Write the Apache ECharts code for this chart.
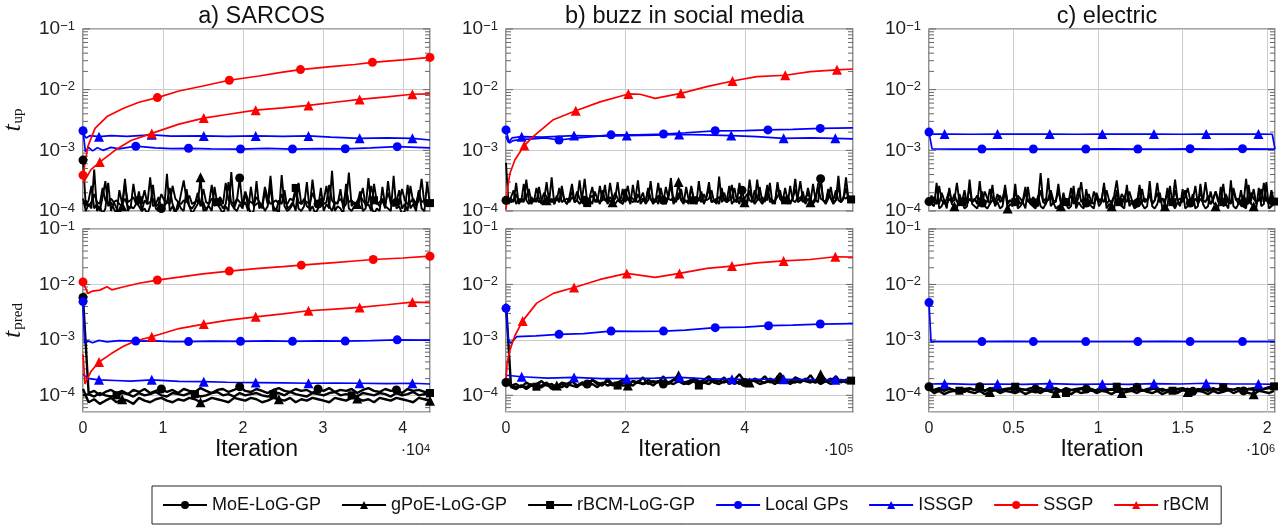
<!DOCTYPE html>
<html><head><meta charset="utf-8">
<script src="https://cdn.jsdelivr.net/npm/echarts@6/dist/echarts.min.js"></script>
<style>html,body{margin:0;padding:0;background:#fff}#c{width:1288px;height:529px}</style>
</head><body><div id="c"></div>
<script>
// ---------------- DATA ----------------
const legendNames = ['MoE-LoG-GP','gPoE-LoG-GP','rBCM-LoG-GP','Local GPs','ISSGP','SSGP','rBCM'];
const panelTitles = ['a) SARCOS','b) buzz in social media','c) electric'];
const xTickDivisors = [1e4, 1e5, 1e6];
const xExponents = ['4','5','6'];
const yTicksMajor = [1e-4, 1e-3, 1e-2, 1e-1];
const yTicksMinor = [6e-5,7e-5,8e-5,9e-5,2e-4,3e-4,4e-4,5e-4,6e-4,7e-4,8e-4,9e-4,2e-3,3e-3,4e-3,5e-3,6e-3,7e-3,8e-3,9e-3,2e-2,3e-2,4e-2,5e-2,6e-2,7e-2,8e-2,9e-2];
// sampling steps (iterations) of the LoG-GP timing series: [t_up, t_pred]
const SARCOS_STEPS = [350, 700], BUZZ_STEPS = [4250, 8500], ELECTRIC_STEPS = [15000, 30000];

// ---- a) SARCOS, t_up ----
const sarcosUpMoE = [6.9e-4,1.2e-4,1.5e-4,2.6e-4,1.1e-4,1.3e-4,1.0e-4,1.7e-4,3.1e-4,1.2e-4,
1.4e-4,1.1e-4,0.9e-4,2.2e-4,1.3e-4,1.6e-4,1.2e-4,1.1e-4,2.8e-4,1.4e-4,
1.2e-4,1.0e-4,1.5e-4,1.3e-4,3.6e-4,1.2e-4,1.3e-4,1.7e-4,1.1e-4,1.2e-4,
1.4e-4,2.4e-4,1.3e-4,1.0e-4,1.1e-4,1.9e-4,3.2e-4,1.5e-4,1.2e-4,1.1e-4,
1.3e-4,2.0e-4,1.2e-4,1.4e-4,1.0e-4,1.3e-4,2.7e-4,1.2e-4,1.6e-4,1.4e-4,
1.1e-4,1.3e-4,3.0e-4,1.3e-4,1.1e-4,1.5e-4,3.5e-4,1.2e-4,1.4e-4,1.0e-4,
2.5e-4,1.2e-4,1.3e-4,1.4e-4,1.1e-4,2.1e-4,1.3e-4,3.8e-4,1.2e-4,1.0e-4,
1.5e-4,1.3e-4,2.2e-4,1.1e-4,1.2e-4,1.4e-4,1.0e-4,2.9e-4,1.3e-4,1.6e-4,
1.2e-4,1.1e-4,3.3e-4,1.4e-4,1.3e-4,1.2e-4,1.5e-4,2.6e-4,1.2e-4,1.0e-4,
1.4e-4,1.3e-4,2.3e-4,1.1e-4,1.3e-4,4.3e-4,1.2e-4,1.4e-4,1.1e-4,1.6e-4,
2.4e-4,1.2e-4,1.3e-4,1.0e-4,2.8e-4,1.4e-4,1.2e-4,1.5e-4,1.1e-4,3.1e-4,
1.3e-4,1.2e-4,1.4e-4,2.2e-4,1.1e-4,1.3e-4,1.0e-4,2.6e-4,1.4e-4,1.2e-4,
1.5e-4,3.4e-4,1.3e-4,1.2e-4,1.4e-4];
const sarcosUpGPoE = [1.6e-4,1.0e-4,1.3e-4,1.1e-4,4.8e-4,1.0e-4,1.2e-4,0.9e-4,1.1e-4,2.9e-4,
1.0e-4,1.4e-4,1.1e-4,0.9e-4,1.2e-4,3.4e-4,1.0e-4,1.2e-4,1.1e-4,1.3e-4,
2.1e-4,1.0e-4,1.1e-4,0.9e-4,1.2e-4,2.7e-4,1.1e-4,1.0e-4,1.3e-4,1.1e-4,
4.1e-4,1.0e-4,1.2e-4,0.9e-4,1.4e-4,1.1e-4,1.0e-4,2.3e-4,1.2e-4,0.9e-4,
1.1e-4,1.3e-4,3.6e-4,1.0e-4,1.1e-4,1.2e-4,1.0e-4,2.5e-4,1.3e-4,1.1e-4,
0.9e-4,1.2e-4,1.0e-4,4.4e-4,1.1e-4,1.0e-4,1.3e-4,1.1e-4,2.0e-4,1.2e-4,
0.9e-4,1.0e-4,3.1e-4,1.1e-4,1.3e-4,1.0e-4,1.2e-4,2.6e-4,1.0e-4,1.1e-4,
0.9e-4,3.9e-4,1.2e-4,1.0e-4,1.1e-4,1.3e-4,2.2e-4,1.1e-4,1.0e-4,1.2e-4,
3.0e-4,1.0e-4,1.2e-4,0.9e-4,1.1e-4,2.4e-4,1.0e-4,1.3e-4,1.1e-4,4.6e-4,
1.0e-4,1.2e-4,1.1e-4,0.9e-4,2.8e-4,1.1e-4,1.0e-4,1.2e-4,1.3e-4,2.1e-4,
1.0e-4,1.1e-4,3.5e-4,1.2e-4,0.9e-4,1.1e-4,1.0e-4,2.5e-4,1.2e-4,1.1e-4,
1.0e-4,3.8e-4,1.1e-4,1.2e-4,0.9e-4,1.0e-4,2.7e-4,1.1e-4,1.3e-4,1.0e-4,
2.2e-4,1.1e-4,1.0e-4,3.0e-4,1.2e-4];
const sarcosUpRBCMLoG = [1.3e-4,1.5e-4,1.2e-4,1.4e-4,1.9e-4,1.4e-4,1.3e-4,2.4e-4,1.5e-4,1.3e-4,
1.6e-4,1.4e-4,1.5e-4,1.3e-4,1.2e-4,2.8e-4,1.4e-4,1.5e-4,1.7e-4,1.3e-4,
1.5e-4,1.4e-4,2.2e-4,1.3e-4,1.4e-4,1.6e-4,1.2e-4,1.3e-4,1.9e-4,1.5e-4,
1.4e-4,1.3e-4,2.6e-4,1.6e-4,1.4e-4,1.3e-4,1.5e-4,1.4e-4,1.8e-4,1.3e-4,
1.4e-4,1.5e-4,1.3e-4,2.3e-4,1.4e-4,1.3e-4,1.6e-4,1.5e-4,1.4e-4,1.7e-4,
1.3e-4,2.9e-4,1.5e-4,1.4e-4,1.3e-4,1.6e-4,1.4e-4,1.3e-4,2.1e-4,1.5e-4,
1.4e-4,1.3e-4,1.7e-4,1.4e-4,1.2e-4,2.5e-4,1.6e-4,1.3e-4,1.4e-4,1.5e-4,
1.3e-4,1.9e-4,1.4e-4,1.3e-4,1.6e-4,1.5e-4,2.4e-4,1.4e-4,1.3e-4,1.5e-4,
1.4e-4,1.3e-4,2.0e-4,1.5e-4,1.4e-4,1.6e-4,1.3e-4,1.4e-4,2.7e-4,1.5e-4,
1.3e-4,1.4e-4,1.6e-4,1.3e-4,2.2e-4,1.4e-4,1.5e-4,1.3e-4,1.4e-4,1.8e-4,
1.5e-4,1.3e-4,1.4e-4,2.6e-4,1.5e-4,1.3e-4,1.4e-4,1.6e-4,1.3e-4,2.0e-4,
1.4e-4,1.5e-4,1.3e-4,1.4e-4,2.3e-4,1.5e-4,1.3e-4,1.4e-4,1.6e-4,1.3e-4,
2.1e-4,1.4e-4,1.5e-4,1.3e-4,1.35e-4];
const sarcosUpLocalX = [0,300,700,1200,1800,2500,3500,4500,6600,9000,11000,13200,16000,19700,23000,26200,29500,32800,36000,39300,43400];
const sarcosUpLocalY = [2.1e-3,9.5e-4,1.12e-3,9.8e-4,1.1e-3,1.0e-3,1.12e-3,1.06e-3,1.17e-3,1.1e-3,1.07e-3,1.08e-3,1.06e-3,1.05e-3,1.08e-3,1.05e-3,1.07e-3,1.06e-3,1.1e-3,1.15e-3,1.1e-3];
const sarcosUpISSGPX = [0,400,900,2000,3500,5500,8600,11000,15100,18000,21600,25000,28200,31000,34600,38000,41200,43400];
const sarcosUpISSGPY = [1.9e-3,1.6e-3,1.75e-3,1.68e-3,1.75e-3,1.7e-3,1.8e-3,1.72e-3,1.73e-3,1.7e-3,1.73e-3,1.7e-3,1.73e-3,1.65e-3,1.58e-3,1.6e-3,1.58e-3,1.48e-3];
const sarcosUpSSGPX = [0,600,1500,3000,5000,7000,9300,12000,15000,18300,22000,25000,27200,31000,34000,36200,40000,43400];
const sarcosUpSSGPY = [3.9e-4,1.15e-3,2.3e-3,3.6e-3,4.9e-3,6.2e-3,7.4e-3,9.5e-3,1.15e-2,1.43e-2,1.68e-2,1.95e-2,2.14e-2,2.4e-2,2.6e-2,2.82e-2,3.1e-2,3.4e-2];
const sarcosUpRBCMX = [0,500,1000,2100,4000,6000,8600,12000,15100,18000,21600,25000,28200,31500,34600,38000,41200,43400];
const sarcosUpRBCMY = [2.9e-4,3.7e-4,4.8e-4,6.4e-4,1.0e-3,1.45e-3,1.9e-3,2.7e-3,3.4e-3,3.9e-3,4.6e-3,5.0e-3,5.5e-3,6.2e-3,6.9e-3,7.6e-3,8.4e-3,8.5e-3];

// ---- a) SARCOS, t_pred ----
const sarcosPredMoE = [5.8e-3,1.1e-4,1.2e-4,1.0e-4,1.15e-4,1.25e-4,1.1e-4,1.2e-4,1.05e-4,1.25e-4,1.15e-4,1.3e-4,1.1e-4,1.2e-4,1.3e-4,1.15e-4,1.25e-4,1.1e-4,1.3e-4,1.2e-4,1.15e-4,1.35e-4,1.2e-4,1.1e-4,1.25e-4,1.3e-4,1.15e-4,1.25e-4,1.43e-4,1.2e-4,1.15e-4,1.3e-4,1.2e-4,1.1e-4,1.25e-4,1.35e-4,1.2e-4,1.15e-4,1.3e-4,1.2e-4,1.25e-4,1.1e-4,1.3e-4,1.2e-4,1.35e-4,1.15e-4,1.25e-4,1.2e-4,1.3e-4,1.1e-4,1.25e-4,1.35e-4,1.2e-4,1.15e-4,1.3e-4,1.2e-4,1.25e-4,1.1e-4,1.3e-4,1.2e-4,1.25e-4,1.15e-4,1.2e-4];
const sarcosPredGPoE = [1.3e-4,0.75e-4,0.85e-4,0.7e-4,0.8e-4,0.9e-4,0.75e-4,0.85e-4,0.8e-4,0.7e-4,0.9e-4,0.8e-4,0.75e-4,0.85e-4,0.9e-4,0.8e-4,0.75e-4,0.85e-4,0.8e-4,0.9e-4,0.85e-4,0.75e-4,0.8e-4,0.9e-4,0.85e-4,0.8e-4,0.75e-4,0.9e-4,0.85e-4,0.8e-4,0.9e-4,0.85e-4,0.75e-4,0.8e-4,0.9e-4,0.85e-4,0.8e-4,0.9e-4,0.75e-4,0.85e-4,0.8e-4,0.9e-4,0.85e-4,0.8e-4,0.75e-4,0.9e-4,0.85e-4,0.8e-4,0.9e-4,0.88e-4,0.8e-4,0.85e-4,0.75e-4,0.9e-4,0.85e-4,0.8e-4,0.9e-4,0.85e-4,0.8e-4,0.75e-4,0.9e-4,0.85e-4,0.8e-4];
const sarcosPredRBCMLoG = [1.0e-4,1.05e-4,0.95e-4,1.1e-4,1.0e-4,0.95e-4,1.0e-4,1.1e-4,1.05e-4,0.95e-4,1.1e-4,1.0e-4,1.05e-4,1.15e-4,1.0e-4,0.95e-4,1.1e-4,1.05e-4,1.0e-4,1.1e-4,1.05e-4,0.95e-4,1.0e-4,1.1e-4,1.15e-4,1.0e-4,1.05e-4,0.95e-4,1.1e-4,1.0e-4,1.05e-4,1.1e-4,1.0e-4,0.95e-4,1.05e-4,1.1e-4,1.0e-4,1.15e-4,1.05e-4,1.0e-4,0.95e-4,1.1e-4,1.05e-4,1.0e-4,1.1e-4,1.15e-4,1.0e-4,1.05e-4,1.0e-4,0.95e-4,1.1e-4,1.05e-4,1.0e-4,1.1e-4,1.05e-4,0.95e-4,1.1e-4,1.0e-4,1.05e-4,1.15e-4,1.0e-4,1.05e-4,1.1e-4];
const sarcosPredLocalX = [0,200,600,1200,2000,3000,4500,6600,9000,11000,13200,16000,19700,23000,26200,29500,32800,36000,39300,43400];
const sarcosPredLocalY = [4.9e-3,8.7e-4,9.6e-4,8.9e-4,9.8e-4,9.2e-4,9.7e-4,9.5e-4,9.6e-4,9.3e-4,9.3e-4,9.5e-4,9.4e-4,9.6e-4,9.4e-4,9.6e-4,9.5e-4,9.7e-4,1.0e-3,9.9e-4];
const sarcosPredISSGPX = [0,300,800,2000,4000,6000,8600,12000,15100,18000,21600,25000,28200,31500,34600,38000,41200,43400];
const sarcosPredISSGPY = [2.4e-4,2.2e-4,2.0e-4,1.9e-4,1.85e-4,1.8e-4,1.9e-4,1.78e-4,1.76e-4,1.72e-4,1.7e-4,1.68e-4,1.65e-4,1.66e-4,1.65e-4,1.63e-4,1.65e-4,1.6e-4];
const sarcosPredSSGPX = [0,600,1200,2100,3000,3600,5000,7000,9300,12000,15000,18300,22000,25000,27300,31000,34000,36300,40000,43400];
const sarcosPredSSGPY = [1.11e-2,6.9e-3,7.6e-3,7.9e-3,9.1e-3,8.0e-3,9.0e-3,1.05e-2,1.2e-2,1.35e-2,1.55e-2,1.74e-2,1.95e-2,2.1e-2,2.23e-2,2.45e-2,2.65e-2,2.82e-2,3.0e-2,3.23e-2];
const sarcosPredRBCMX = [0,250,700,1000,2000,3500,5000,6500,8600,12000,15100,18000,21600,25000,28200,31500,34600,38000,41200,43400];
const sarcosPredRBCMY = [5.5e-4,1.6e-4,2.2e-4,2.7e-4,4.0e-4,5.6e-4,7.6e-4,9.5e-4,1.14e-3,1.6e-3,1.93e-3,2.25e-3,2.6e-3,2.95e-3,3.35e-3,3.6e-3,3.85e-3,4.3e-3,4.8e-3,4.7e-3];

// ---- b) buzz, t_up ----
const buzzUpMoE = [1.5e-4,1.4e-4,1.7e-4,2.2e-4,1.3e-4,1.6e-4,1.4e-4,2.8e-4,1.5e-4,1.3e-4,
1.7e-4,1.4e-4,2.4e-4,1.6e-4,1.3e-4,1.5e-4,3.0e-4,1.4e-4,1.6e-4,1.3e-4,
1.8e-4,1.4e-4,2.6e-4,1.5e-4,1.3e-4,1.6e-4,2.1e-4,1.4e-4,1.5e-4,3.2e-4,
1.4e-4,1.5e-4,1.3e-4,1.7e-4,2.5e-4,1.4e-4,1.6e-4,1.3e-4,2.2e-4,1.5e-4,
1.4e-4,2.9e-4,1.6e-4,1.3e-4,1.5e-4,1.4e-4,2.3e-4,1.4e-4,1.7e-4,1.3e-4,
2.7e-4,1.5e-4,1.4e-4,1.6e-4,2.0e-4,1.3e-4,1.5e-4,3.1e-4,1.4e-4,1.6e-4,
1.3e-4,2.4e-4,1.5e-4,1.4e-4,1.7e-4,2.8e-4,1.3e-4,1.5e-4,1.6e-4,2.3e-4,
1.4e-4,1.5e-4,1.3e-4,2.6e-4,1.6e-4,1.4e-4,1.5e-4,2.1e-4,1.3e-4,1.7e-4,
3.0e-4,1.4e-4,1.5e-4,1.6e-4,1.3e-4,2.4e-4,1.5e-4,1.4e-4,1.7e-4,2.7e-4,
1.4e-4,1.6e-4,1.3e-4,2.2e-4,1.5e-4,1.4e-4,3.3e-4,1.6e-4,1.3e-4,1.5e-4,
2.5e-4,1.4e-4,1.6e-4,1.5e-4,2.9e-4,1.3e-4,1.5e-4,1.7e-4,2.2e-4,1.4e-4,
1.6e-4,1.3e-4,2.6e-4,1.5e-4,1.4e-4,1.7e-4,3.1e-4,1.5e-4,1.4e-4,2.4e-4,
1.6e-4,1.3e-4,1.5e-4,2.8e-4,3.4e-4,1.5e-4,1.4e-4,2.3e-4,1.6e-4,1.3e-4,
1.5e-4,2.7e-4,1.4e-4,1.6e-4,3.6e-4,1.5e-4,1.4e-4];
const buzzUpGPoE = [6.2e-4,1.3e-4,1.6e-4,1.4e-4,2.9e-4,1.3e-4,1.5e-4,1.4e-4,3.3e-4,1.5e-4,
1.3e-4,1.6e-4,1.4e-4,2.5e-4,1.5e-4,1.3e-4,1.5e-4,1.4e-4,3.6e-4,1.3e-4,
1.6e-4,1.4e-4,2.2e-4,1.5e-4,1.3e-4,1.7e-4,2.8e-4,1.4e-4,1.5e-4,1.3e-4,
1.6e-4,3.4e-4,1.4e-4,1.5e-4,1.3e-4,2.1e-4,1.6e-4,1.4e-4,1.5e-4,2.7e-4,
1.3e-4,1.5e-4,1.4e-4,1.6e-4,3.0e-4,1.4e-4,1.3e-4,1.7e-4,2.6e-4,1.5e-4,
1.4e-4,1.6e-4,3.2e-4,1.3e-4,1.5e-4,1.4e-4,2.4e-4,1.6e-4,1.3e-4,1.5e-4,
2.9e-4,1.4e-4,1.5e-4,1.3e-4,1.7e-4,3.5e-4,1.4e-4,1.6e-4,3.0e-4,1.5e-4,
1.3e-4,2.5e-4,1.5e-4,1.4e-4,1.6e-4,1.3e-4,3.1e-4,1.5e-4,1.4e-4,1.7e-4,
2.3e-4,1.4e-4,1.5e-4,1.3e-4,3.7e-4,1.4e-4,1.6e-4,1.5e-4,2.6e-4,1.3e-4,
1.5e-4,1.4e-4,2.9e-4,1.6e-4,1.4e-4,1.3e-4,2.2e-4,1.5e-4,1.4e-4,3.3e-4,
1.5e-4,1.3e-4,1.6e-4,2.7e-4,1.4e-4,1.5e-4,1.3e-4,3.0e-4,1.6e-4,1.4e-4,
2.4e-4,1.5e-4,1.3e-4,1.6e-4,3.4e-4,1.4e-4,1.5e-4,2.1e-4,1.3e-4,1.6e-4,
1.4e-4,2.8e-4,1.5e-4,1.4e-4,3.6e-4,1.5e-4,1.3e-4,1.6e-4,2.5e-4,1.4e-4,
1.5e-4,3.8e-4,1.4e-4,1.6e-4,2.4e-4,1.5e-4,1.4e-4];
const buzzUpRBCMLoG = [1.5e-4,1.6e-4,1.4e-4,1.5e-4,1.9e-4,1.4e-4,1.6e-4,1.5e-4,1.7e-4,2.3e-4,
1.4e-4,1.5e-4,1.6e-4,1.4e-4,1.5e-4,2.0e-4,1.7e-4,1.5e-4,1.4e-4,1.6e-4,
1.5e-4,2.4e-4,1.4e-4,1.5e-4,1.6e-4,1.4e-4,1.7e-4,1.5e-4,2.1e-4,1.6e-4,
1.4e-4,1.5e-4,1.35e-4,1.6e-4,1.8e-4,1.5e-4,1.4e-4,2.6e-4,1.5e-4,1.6e-4,
1.4e-4,1.7e-4,1.5e-4,2.0e-4,1.6e-4,1.4e-4,1.5e-4,2.3e-4,1.5e-4,1.7e-4,
1.6e-4,1.4e-4,1.9e-4,1.5e-4,1.6e-4,1.4e-4,2.2e-4,1.5e-4,1.6e-4,1.4e-4,
1.8e-4,1.5e-4,1.4e-4,2.5e-4,1.6e-4,1.5e-4,1.7e-4,1.4e-4,2.0e-4,1.5e-4,
1.6e-4,1.4e-4,1.5e-4,2.4e-4,1.5e-4,1.7e-4,1.6e-4,1.4e-4,1.9e-4,1.5e-4,
1.6e-4,2.2e-4,1.4e-4,1.5e-4,1.7e-4,1.6e-4,2.0e-4,1.4e-4,1.5e-4,1.6e-4,
2.4e-4,1.5e-4,1.7e-4,1.4e-4,1.6e-4,1.9e-4,1.5e-4,1.4e-4,2.2e-4,1.6e-4,
1.5e-4,1.7e-4,1.4e-4,2.1e-4,1.6e-4,1.5e-4,1.4e-4,2.7e-4,1.6e-4,1.5e-4,
1.5e-4,1.8e-4,1.4e-4,1.6e-4,2.3e-4,1.5e-4,1.7e-4,1.4e-4,1.6e-4,2.0e-4,
1.5e-4,1.4e-4,1.7e-4,2.5e-4,1.6e-4,1.5e-4,1.4e-4,1.9e-4,1.6e-4,1.5e-4,
2.2e-4,1.5e-4,1.4e-4,1.7e-4,1.6e-4,1.8e-4,1.55e-4];
const buzzUpLocalX = [0,5600,12000,23500,45000,65000,88800,120000,150000,176000,220000,263800,300000,350400,400000,438700,480000,526400,581000];
const buzzUpLocalY = [2.17e-3,1.32e-3,1.45e-3,1.5e-3,1.55e-3,1.6e-3,1.48e-3,1.6e-3,1.7e-3,1.8e-3,1.8e-3,1.86e-3,1.95e-3,2.1e-3,2.12e-3,2.17e-3,2.22e-3,2.3e-3,2.35e-3];
const buzzUpISSGPX = [0,4000,10000,26300,60000,114000,160000,202300,250000,290000,330000,377200,420000,465000,510000,551600,581000];
const buzzUpISSGPY = [1.7e-3,1.35e-3,1.6e-3,1.68e-3,1.65e-3,1.75e-3,1.72e-3,1.75e-3,1.78e-3,1.83e-3,1.8e-3,1.75e-3,1.68e-3,1.58e-3,1.6e-3,1.58e-3,1.55e-3];
const buzzUpRBCMX = [0,3000,6700,15000,30700,45800,79300,116800,157600,205000,224600,249800,292800,336500,379400,420300,467700,509600,554400,581000];
const buzzUpRBCMY = [1.05e-4,2.5e-4,4.2e-4,7.0e-4,1.2e-3,1.7e-3,3.2e-3,4.5e-3,6.3e-3,8.5e-3,8.4e-3,7.2e-3,8.7e-3,1.12e-2,1.39e-2,1.64e-2,1.73e-2,1.99e-2,2.12e-2,2.19e-2];

// ---- b) buzz, t_pred ----
const buzzPredMoE = [1.7e-4,1.5e-4,1.6e-4,1.4e-4,1.7e-4,1.5e-4,1.6e-4,1.8e-4,1.5e-4,1.6e-4,1.4e-4,1.7e-4,1.6e-4,1.8e-4,1.5e-4,1.7e-4,1.6e-4,1.9e-4,1.7e-4,1.6e-4,1.8e-4,1.5e-4,1.7e-4,1.9e-4,1.6e-4,1.8e-4,1.7e-4,1.6e-4,1.9e-4,1.7e-4,1.8e-4,1.6e-4,1.7e-4,1.9e-4,1.8e-4,1.6e-4,1.7e-4,2.0e-4,1.8e-4,1.7e-4,1.6e-4,1.9e-4,1.8e-4,1.7e-4,2.0e-4,1.6e-4,1.8e-4,1.7e-4,1.9e-4,1.8e-4,1.6e-4,1.7e-4,2.0e-4,1.8e-4,1.7e-4,1.9e-4,1.6e-4,1.8e-4,1.7e-4,2.0e-4,1.8e-4,1.7e-4,1.9e-4,1.8e-4,1.6e-4,1.8e-4,1.9e-4,1.7e-4,1.8e-4];
const buzzPredGPoE = [4.5e-3,1.4e-4,1.3e-4,1.5e-4,1.4e-4,1.6e-4,1.3e-4,1.5e-4,1.7e-4,1.4e-4,1.5e-4,1.6e-4,1.4e-4,1.8e-4,1.5e-4,1.6e-4,1.4e-4,1.9e-4,1.6e-4,1.5e-4,2.0e-4,1.6e-4,1.7e-4,1.5e-4,1.5e-4,1.8e-4,1.7e-4,2.1e-4,1.6e-4,1.8e-4,1.7e-4,2.2e-4,1.6e-4,1.9e-4,2.3e-4,1.7e-4,1.8e-4,2.0e-4,1.7e-4,1.9e-4,2.2e-4,1.7e-4,1.8e-4,2.1e-4,1.6e-4,1.9e-4,2.4e-4,1.8e-4,1.7e-4,2.0e-4,1.8e-4,2.2e-4,1.7e-4,1.9e-4,2.5e-4,1.8e-4,1.7e-4,2.1e-4,1.9e-4,1.8e-4,2.3e-4,1.7e-4,2.4e-4,1.9e-4,1.8e-4,2.2e-4,1.7e-4,1.9e-4,2.0e-4];
const buzzPredRBCMLoG = [1.6e-4,1.5e-4,1.4e-4,1.5e-4,1.3e-4,1.5e-4,1.43e-4,1.4e-4,1.6e-4,1.3e-4,1.5e-4,1.4e-4,1.6e-4,1.5e-4,1.4e-4,1.7e-4,1.5e-4,1.6e-4,1.4e-4,1.7e-4,1.5e-4,1.6e-4,1.5e-4,1.7e-4,1.6e-4,1.5e-4,1.8e-4,1.6e-4,1.7e-4,1.5e-4,1.8e-4,1.6e-4,1.7e-4,1.6e-4,1.8e-4,1.7e-4,1.6e-4,1.8e-4,1.5e-4,1.7e-4,1.9e-4,1.7e-4,1.6e-4,1.8e-4,1.7e-4,1.9e-4,1.6e-4,1.8e-4,1.7e-4,1.9e-4,1.8e-4,1.7e-4,1.8e-4,1.6e-4,1.9e-4,1.7e-4,1.8e-4,1.7e-4,1.9e-4,1.8e-4,1.7e-4,1.9e-4,1.6e-4,1.8e-4,2.0e-4,1.7e-4,1.8e-4,1.9e-4,1.84e-4];
const buzzPredLocalX = [0,3900,8000,17900,50000,88800,130000,176000,220000,263800,300000,350400,400000,439700,480000,526400,581000];
const buzzPredLocalY = [3.7e-3,1.0e-3,8.7e-4,1.14e-3,1.18e-3,1.26e-3,1.3e-3,1.44e-3,1.42e-3,1.44e-3,1.5e-3,1.66e-3,1.7e-3,1.8e-3,1.85e-3,1.93e-3,1.97e-3];
const buzzPredISSGPX = [0,3000,26300,70000,114000,160000,202300,250000,290500,330000,378400,420000,465000,510000,551600,581000];
const buzzPredISSGPY = [2.3e-4,2.2e-4,2.16e-4,2.05e-4,2.1e-4,2.0e-4,2.0e-4,2.05e-4,2.1e-4,2.0e-4,1.95e-4,1.95e-4,1.95e-4,1.92e-4,1.9e-4,1.9e-4];
const buzzPredRBCMX = [0,2000,6700,15000,28000,51400,79300,114000,157600,202300,249800,290500,336500,378400,420300,465000,509600,551600,581000];
const buzzPredRBCMY = [1.9e-4,4.0e-4,6.6e-4,1.2e-3,2.2e-3,4.6e-3,6.9e-3,8.8e-3,1.23e-2,1.58e-2,1.34e-2,1.58e-2,1.95e-2,2.14e-2,2.45e-2,2.66e-2,2.82e-2,3.16e-2,3.1e-2];

// ---- c) electric, t_up ----
const elecUpMoE = [1.43e-4,1.8e-4,1.4e-4,1.3e-4,2.6e-4,1.5e-4,1.3e-4,1.6e-4,2.2e-4,1.4e-4,
1.5e-4,2.9e-4,1.4e-4,1.3e-4,1.7e-4,1.5e-4,2.4e-4,1.4e-4,1.6e-4,1.3e-4,
3.1e-4,1.35e-4,1.5e-4,1.4e-4,2.3e-4,1.6e-4,1.3e-4,1.5e-4,1.8e-4,1.4e-4,
2.7e-4,1.3e-4,1.5e-4,1.4e-4,2.0e-4,1.6e-4,1.3e-4,1.5e-4,2.5e-4,1.4e-4,
1.6e-4,1.3e-4,1.35e-4,1.5e-4,4.2e-4,1.4e-4,1.3e-4,1.6e-4,2.2e-4,1.5e-4,
1.4e-4,2.8e-4,1.3e-4,1.5e-4,1.6e-4,1.4e-4,2.4e-4,1.5e-4,1.3e-4,1.7e-4,
3.0e-4,1.4e-4,1.35e-4,1.5e-4,1.3e-4,2.1e-4,1.6e-4,1.4e-4,1.5e-4,2.6e-4,
1.3e-4,1.5e-4,1.4e-4,1.8e-4,3.2e-4,1.5e-4,1.3e-4,1.6e-4,2.3e-4,1.4e-4,
1.5e-4,1.3e-4,1.35e-4,2.7e-4,1.4e-4,1.6e-4,1.5e-4,2.0e-4,1.3e-4,1.5e-4,
2.9e-4,1.4e-4,1.6e-4,1.3e-4,2.4e-4,1.5e-4,1.4e-4,3.3e-4,1.5e-4,1.3e-4,
1.6e-4,2.2e-4,1.4e-4,1.35e-4,1.5e-4,2.6e-4,1.3e-4,1.6e-4,1.4e-4,3.0e-4,
1.5e-4,1.3e-4,1.6e-4,2.1e-4,1.4e-4,1.5e-4,2.8e-4,1.3e-4,1.5e-4,1.4e-4,
2.4e-4,1.6e-4,1.3e-4,1.5e-4,1.35e-4,3.4e-4,1.4e-4,1.5e-4,2.3e-4,1.3e-4,
1.6e-4,1.4e-4,2.9e-4,1.5e-4,1.3e-4,2.2e-4,1.43e-4];
const elecUpGPoE = [1.6e-4,1.3e-4,1.2e-4,2.9e-4,1.1e-4,1.2e-4,1.5e-4,1.1e-4,2.4e-4,1.3e-4,
1.2e-4,1.1e-4,1.9e-4,1.4e-4,1.1e-4,1.2e-4,3.3e-4,1.3e-4,1.2e-4,1.1e-4,
1.5e-4,2.1e-4,1.2e-4,1.1e-4,1.3e-4,2.7e-4,1.2e-4,1.4e-4,1.1e-4,1.2e-4,
2.2e-4,1.1e-4,1.3e-4,1.2e-4,2.8e-4,1.1e-4,1.2e-4,1.4e-4,1.1e-4,2.5e-4,
1.3e-4,1.2e-4,1.1e-4,1.8e-4,1.2e-4,1.1e-4,1.3e-4,3.5e-4,1.2e-4,1.4e-4,
1.1e-4,1.2e-4,1.2e-4,2.0e-4,1.3e-4,1.1e-4,1.2e-4,2.6e-4,1.1e-4,1.4e-4,
1.2e-4,1.1e-4,2.3e-4,1.3e-4,1.2e-4,1.1e-4,1.9e-4,1.2e-4,1.4e-4,2.9e-4,
1.1e-4,1.3e-4,1.2e-4,1.1e-4,2.2e-4,1.3e-4,1.2e-4,1.1e-4,2.7e-4,1.2e-4,
1.4e-4,1.1e-4,1.2e-4,2.4e-4,1.3e-4,1.1e-4,1.2e-4,3.1e-4,1.2e-4,1.1e-4,
1.3e-4,2.0e-4,1.1e-4,1.2e-4,1.2e-4,2.6e-4,1.3e-4,1.1e-4,1.4e-4,1.2e-4,
2.3e-4,1.1e-4,1.2e-4,1.3e-4,1.9e-4,1.1e-4,1.2e-4,2.8e-4,1.3e-4,1.1e-4,
1.2e-4,2.1e-4,1.4e-4,1.2e-4,1.1e-4,2.5e-4,1.2e-4,1.3e-4,1.1e-4,3.2e-4,
1.2e-4,1.1e-4,1.3e-4,2.2e-4,1.2e-4,1.1e-4,2.7e-4,1.3e-4,1.2e-4,1.1e-4,
2.4e-4,1.2e-4,1.3e-4,3.0e-4,1.1e-4,1.2e-4,1.3e-4];
const elecUpRBCMLoG = [1.4e-4,1.5e-4,1.7e-4,1.4e-4,1.3e-4,2.0e-4,1.5e-4,1.3e-4,1.6e-4,1.4e-4,
1.9e-4,1.4e-4,1.5e-4,1.4e-4,2.2e-4,1.3e-4,1.6e-4,1.4e-4,1.5e-4,1.8e-4,
1.5e-4,1.4e-4,2.1e-4,1.6e-4,1.3e-4,1.5e-4,1.4e-4,1.9e-4,1.4e-4,1.6e-4,
2.3e-4,1.4e-4,1.5e-4,1.3e-4,1.4e-4,1.8e-4,1.6e-4,1.4e-4,2.0e-4,1.5e-4,
1.3e-4,1.7e-4,1.5e-4,1.4e-4,2.2e-4,1.4e-4,1.6e-4,1.5e-4,1.9e-4,1.3e-4,
1.5e-4,2.1e-4,1.4e-4,1.6e-4,1.4e-4,1.5e-4,1.8e-4,1.3e-4,1.5e-4,2.4e-4,
1.4e-4,1.6e-4,1.5e-4,1.9e-4,1.4e-4,1.3e-4,2.0e-4,1.5e-4,1.6e-4,1.4e-4,
2.2e-4,1.5e-4,1.3e-4,1.7e-4,1.5e-4,1.4e-4,1.9e-4,1.6e-4,1.4e-4,2.1e-4,
1.5e-4,1.3e-4,1.6e-4,1.5e-4,2.3e-4,1.4e-4,1.5e-4,1.8e-4,1.3e-4,1.5e-4,
2.0e-4,1.4e-4,1.6e-4,1.5e-4,1.9e-4,1.3e-4,1.4e-4,2.2e-4,1.5e-4,1.6e-4,
1.4e-4,1.7e-4,2.4e-4,1.5e-4,1.3e-4,1.6e-4,1.4e-4,2.0e-4,1.5e-4,1.4e-4,
1.8e-4,1.3e-4,1.5e-4,2.1e-4,1.6e-4,1.4e-4,1.4e-4,1.9e-4,1.5e-4,1.3e-4,
2.2e-4,1.5e-4,1.6e-4,1.4e-4,1.8e-4,1.5e-4,1.3e-4,2.0e-4,1.6e-4,1.4e-4,
1.5e-4,2.3e-4,1.4e-4,1.6e-4,1.5e-4,1.8e-4,1.43e-4];
const elecUpLocalX = [0,18000,160000,313000,460000,617000,770000,927000,1080000,1235000,1390000,1544000,1700000,1854000,2046000];
const elecUpLocalY = [2.0e-3,1.06e-3,1.05e-3,1.05e-3,1.06e-3,1.05e-3,1.05e-3,1.05e-3,1.06e-3,1.05e-3,1.05e-3,1.06e-3,1.05e-3,1.06e-3,1.05e-3];
const elecUpISSGPX = [0,92000,250000,405000,560000,714000,870000,1025000,1180000,1330000,1485000,1639000,1795000,1948000,2030000,2046000];
const elecUpISSGPY = [1.85e-3,1.86e-3,1.84e-3,1.86e-3,1.85e-3,1.86e-3,1.84e-3,1.85e-3,1.85e-3,1.86e-3,1.84e-3,1.86e-3,1.85e-3,1.86e-3,1.84e-3,1.05e-3];

// ---- c) electric, t_pred ----
const elecPredMoE = [1.43e-4,1.2e-4,1.3e-4,1.25e-4,1.35e-4,1.2e-4,1.3e-4,1.15e-4,1.3e-4,1.25e-4,1.43e-4,1.2e-4,1.3e-4,1.35e-4,1.2e-4,1.25e-4,1.3e-4,1.15e-4,1.3e-4,1.25e-4,1.2e-4,1.3e-4,1.35e-4,1.2e-4,1.25e-4,1.3e-4,1.2e-4,1.35e-4,1.25e-4,1.2e-4,1.3e-4,1.3e-4,1.2e-4,1.25e-4,1.35e-4,1.2e-4,1.3e-4,1.15e-4,1.25e-4,1.3e-4,1.2e-4,1.4e-4,1.25e-4,1.2e-4,1.3e-4,1.35e-4,1.2e-4,1.25e-4,1.3e-4,1.15e-4,1.25e-4,1.3e-4,1.18e-4,1.3e-4,1.25e-4,1.2e-4,1.35e-4,1.25e-4,1.2e-4,1.3e-4,1.25e-4,1.35e-4,1.2e-4,1.3e-4,1.25e-4,1.2e-4,1.3e-4,1.35e-4,1.3e-4];
const elecPredGPoE = [1.3e-4,1.1e-4,1.2e-4,1.05e-4,1.15e-4,1.2e-4,1.1e-4,1.25e-4,1.15e-4,1.1e-4,1.2e-4,1.05e-4,1.15e-4,1.25e-4,1.1e-4,1.2e-4,1.15e-4,1.1e-4,1.2e-4,1.05e-4,1.15e-4,1.2e-4,1.1e-4,1.25e-4,1.15e-4,1.1e-4,1.2e-4,1.15e-4,1.05e-4,1.2e-4,1.1e-4,1.15e-4,1.25e-4,1.1e-4,1.2e-4,1.15e-4,1.05e-4,1.2e-4,1.1e-4,1.15e-4,1.2e-4,1.1e-4,1.25e-4,1.15e-4,1.1e-4,1.2e-4,1.05e-4,1.15e-4,1.2e-4,1.1e-4,1.25e-4,1.15e-4,1.1e-4,1.2e-4,1.15e-4,1.05e-4,1.2e-4,1.1e-4,1.15e-4,1.25e-4,1.1e-4,1.2e-4,1.15e-4,1.1e-4,1.05e-4,1.2e-4,1.15e-4,1.1e-4,1.2e-4];
const elecPredRBCMLoG = [1.3e-4,1.25e-4,1.35e-4,1.2e-4,1.3e-4,1.25e-4,1.21e-4,1.3e-4,1.35e-4,1.25e-4,1.3e-4,1.2e-4,1.35e-4,1.3e-4,1.25e-4,1.3e-4,1.35e-4,1.43e-4,1.3e-4,1.25e-4,1.35e-4,1.3e-4,1.2e-4,1.3e-4,1.25e-4,1.35e-4,1.2e-4,1.1e-4,1.25e-4,1.3e-4,1.35e-4,1.25e-4,1.3e-4,1.2e-4,1.35e-4,1.3e-4,1.25e-4,1.43e-4,1.3e-4,1.25e-4,1.35e-4,1.3e-4,1.2e-4,1.3e-4,1.35e-4,1.25e-4,1.3e-4,1.2e-4,1.21e-4,1.3e-4,1.35e-4,1.25e-4,1.3e-4,1.2e-4,1.35e-4,1.3e-4,1.25e-4,1.3e-4,1.38e-4,1.3e-4,1.25e-4,1.35e-4,1.2e-4,1.3e-4,1.35e-4,1.25e-4,1.3e-4,1.4e-4,1.45e-4];
const elecPredLocalX = [0,12000,160000,313000,460000,617000,770000,927000,1080000,1235000,1390000,1544000,1700000,1854000,2046000];
const elecPredLocalY = [4.7e-3,9.3e-4,9.3e-4,9.3e-4,9.4e-4,9.3e-4,9.3e-4,9.3e-4,9.3e-4,9.3e-4,9.4e-4,9.3e-4,9.3e-4,9.3e-4,9.3e-4];
const elecPredISSGPX = [0,12000,92000,250000,405000,560000,714000,870000,1025000,1180000,1330000,1485000,1639000,1795000,1948000,2046000];
const elecPredISSGPY = [1.6e-4,1.6e-4,1.62e-4,1.58e-4,1.6e-4,1.58e-4,1.62e-4,1.58e-4,1.6e-4,1.58e-4,1.63e-4,1.6e-4,1.65e-4,1.6e-4,1.6e-4,1.58e-4];

// ---------------- LAYOUT / STYLE ----------------
const FONT = 'Liberation Sans';
const COLS = [
  {left:83, width:347, max:43400, interval:1e4},
  {left:506, width:347, max:581200, interval:2e5},
  {left:929, width:346, max:2046000, interval:5e5}
];
const ROWS = [{top:29, height:182, min:1e-4}, {top:229, height:183, min:5e-5}];
const STEPS = [SARCOS_STEPS, BUZZ_STEPS, ELECTRIC_STEPS];
const STY = {
  'MoE-LoG-GP': {color:'#000', symbol:'circle', size:9},
  'gPoE-LoG-GP': {color:'#000', symbol:'triangle', size:10},
  'rBCM-LoG-GP': {color:'#000', symbol:'rect', size:8},
  'Local GPs': {color:'#0000ff', symbol:'circle', size:9},
  'ISSGP': {color:'#0000ff', symbol:'triangle', size:10},
  'SSGP': {color:'#ff0000', symbol:'circle', size:9},
  'rBCM': {color:'#ff0000', symbol:'triangle', size:10}
};
// [name, row, col, xs (null = sampled every STEP), ys, marker indices]
const SPEC = [
  ['MoE-LoG-GP',0,0,null,sarcosUpMoE,[0,28,56,84,112]],
  ['gPoE-LoG-GP',0,0,null,sarcosUpGPoE,[14,42,70,98]],
  ['rBCM-LoG-GP',0,0,null,sarcosUpRBCMLoG,[20,48,76,104,124]],
  ['Local GPs',0,0,sarcosUpLocalX,sarcosUpLocalY,[0,8,11,13,15,17,19]],
  ['ISSGP',0,0,sarcosUpISSGPX,sarcosUpISSGPY,[3,6,8,10,12,14,16]],
  ['SSGP',0,0,sarcosUpSSGPX,sarcosUpSSGPY,[0,6,9,12,15,17]],
  ['rBCM',0,0,sarcosUpRBCMX,sarcosUpRBCMY,[3,6,8,10,12,14,16]],

  ['MoE-LoG-GP',1,0,null,sarcosPredMoE,[0,14,28,42,56]],
  ['gPoE-LoG-GP',1,0,null,sarcosPredGPoE,[7,21,35,49,62]],
  ['rBCM-LoG-GP',1,0,null,sarcosPredRBCMLoG,[6,20,34,48,62]],
  ['Local GPs',1,0,sarcosPredLocalX,sarcosPredLocalY,[0,7,10,12,14,16,18]],
  ['ISSGP',1,0,sarcosPredISSGPX,sarcosPredISSGPY,[3,6,8,10,12,14,16]],
  ['SSGP',1,0,sarcosPredSSGPX,sarcosPredSSGPY,[0,8,11,14,17,19]],
  ['rBCM',1,0,sarcosPredRBCMX,sarcosPredRBCMY,[4,8,10,12,14,16,18]],

  ['MoE-LoG-GP',0,1,null,buzzUpMoE,[0,31,62,93,124]],
  ['gPoE-LoG-GP',0,1,null,buzzUpGPoE,[16,42,68,94,120]],
  ['rBCM-LoG-GP',0,1,null,buzzUpRBCMLoG,[32,74,110,136]],
  ['Local GPs',0,1,buzzUpLocalX,buzzUpLocalY,[0,6,9,11,13,15,17]],
  ['ISSGP',0,1,buzzUpISSGPX,buzzUpISSGPY,[3,5,7,9,11,13,15]],
  ['rBCM',0,1,buzzUpRBCMX,buzzUpRBCMY,[4,7,9,12,14,16,18]],

  ['MoE-LoG-GP',1,1,null,buzzPredMoE,[0,16,31,47,62]],
  ['gPoE-LoG-GP',1,1,null,buzzPredGPoE,[10,24,34,48,62]],
  ['rBCM-LoG-GP',1,1,null,buzzPredRBCMLoG,[6,22,38,54,68]],
  ['Local GPs',1,1,buzzPredLocalX,buzzPredLocalY,[0,5,7,9,11,13,15]],
  ['ISSGP',1,1,buzzPredISSGPX,buzzPredISSGPY,[2,4,6,8,10,12,14]],
  ['rBCM',1,1,buzzPredRBCMX,buzzPredRBCMY,[4,7,9,11,13,15,17]],

  ['MoE-LoG-GP',0,2,null,elecUpMoE,[0,21,42,62,82,103,124]],
  ['gPoE-LoG-GP',0,2,null,elecUpGPoE,[10,31,52,72,93,113,128]],
  ['rBCM-LoG-GP',0,2,null,elecUpRBCMLoG,[13,34,54,75,96,116,136]],
  ['Local GPs',0,2,elecUpLocalX,elecUpLocalY,[0,3,5,7,9,11,13]],
  ['ISSGP',0,2,elecUpISSGPX,elecUpISSGPY,[1,3,5,7,9,11,13]],

  ['MoE-LoG-GP',1,2,null,elecPredMoE,[0,10,21,31,41,52,62]],
  ['gPoE-LoG-GP',1,2,null,elecPredGPoE,[12,25,38,51,64]],
  ['rBCM-LoG-GP',1,2,null,elecPredRBCMLoG,[6,17,27,37,48,58,68]],
  ['Local GPs',1,2,elecPredLocalX,elecPredLocalY,[0,3,5,7,9,11,13]],
  ['ISSGP',1,2,elecPredISSGPX,elecPredISSGPY,[2,4,6,8,10,12,14]]
];

function sampledX(n, step){ const a = []; for (let i = 0; i < n; i++) a.push(i * step); return a; }

const grids = [], xAxes = [], yAxes = [], series = [];
ROWS.forEach((r, ri) => COLS.forEach((c, ci) => {
  const gi = ri * 3 + ci;
  grids.push({left:c.left, top:r.top, width:c.width, height:r.height, show:true, borderColor:'#4a4a4a', borderWidth:1.2, backgroundColor:'transparent', outerBoundsMode:'none'});
  xAxes.push({
    type:'value', gridIndex:gi, min:0, max:c.max, interval:c.interval,
    axisLine:{show:false}, axisTick:{show:false},
    splitLine:{show:true, lineStyle:{color:'#cbcbcb', width:1}},
    axisLabel:{show: ri === 1, showMaxLabel:false, margin:9, fontFamily:FONT, fontSize:16, color:'#222',
      formatter: v => String(+(v / xTickDivisors[ci]).toFixed(2))},
    name: ri === 1 ? 'Iteration' : '', nameLocation:'middle', nameGap:26,
    nameTextStyle:{fontFamily:FONT, fontSize:23, color:'#111'}
  });
  const y = {
    type:'log', logBase:10, gridIndex:gi, min:r.min, max:1e-1,
    axisLine:{show:false}, axisTick:{show:false}, minorTick:{show:false},
    splitLine:{show:true, lineStyle:{color:'#cbcbcb', width:1}},
    axisLabel:{showMinLabel: ri === 0, margin:8, color:'#222',
      formatter: v => '{b|10}{s|\u2212' + Math.round(-Math.log10(v)) + '}',
      rich:{ b:{fontFamily:FONT, fontSize:19, color:'#222', lineHeight:19, verticalAlign:'bottom'},
             s:{fontFamily:FONT, fontSize:13, color:'#222', lineHeight:13, verticalAlign:'top', padding:[0,0,10,0]} }}
  };
  if (ci === 0) {
    y.name = ri === 0 ? '{t|t}{s|up}' : '{t|t}{s|pred}';
    y.nameLocation = 'middle'; y.nameRotate = 90; y.nameGap = 57;
    y.nameTextStyle = {rich:{
      t:{fontFamily:'Liberation Serif', fontStyle:'italic', fontSize:26, color:'#111', lineHeight:26, verticalAlign:'top'},
      s:{fontFamily:'Liberation Serif', fontSize:15, color:'#111', lineHeight:15, verticalAlign:'bottom', padding:[0,0,0,1]}
    }};
  }
  yAxes.push(y);
  // axis tick marks (major + minor) on both vertical borders, placed through the y scale
  const tickData = yTicksMajor.map(v => [0, v, 1]).concat(yTicksMinor.map(v => [0, v, 0]));
  series.push({
    type:'custom', xAxisIndex:gi, yAxisIndex:gi, data:tickData, silent:true, z:3,
    renderItem:(params, api) => {
      const p = api.coord([api.value(0), api.value(1)]);
      const cs = params.coordSys;
      if (p[1] < cs.y - 0.5 || p[1] > cs.y + cs.height + 0.5) return null;
      const L = api.value(2) === 1 ? 7 : 5;
      const st = {stroke:'#666', lineWidth:1};
      return {type:'group', children:[
        {type:'line', shape:{x1:cs.x, y1:p[1], x2:cs.x + L, y2:p[1]}, style:st},
        {type:'line', shape:{x1:cs.x + cs.width - L, y1:p[1], x2:cs.x + cs.width, y2:p[1]}, style:st}
      ]};
    }
  });
}));

SPEC.forEach(([name, ri, ci, xs, ys, marks]) => {
  const gi = ri * 3 + ci;
  const st = STY[name];
  const X = xs || sampledX(ys.length, STEPS[ci][ri]);
  const data = ys.map((v, i) => marks.indexOf(i) >= 0 ? {value:[X[i], v]} : {value:[X[i], v], symbol:'none'});
  const black = st.color === '#000';
  series.push({
    type:'line', name, xAxisIndex:gi, yAxisIndex:gi, data,
    symbol:st.symbol, symbolSize:st.size, showSymbol:true, showAllSymbol:true,
    lineStyle:{color:st.color, width: black ? (ri === 0 ? 1.9 : 2.4) : 1.7}, itemStyle:{color:st.color, borderWidth:0},
    clip:true, z:4, emphasis:{disabled:true}, silent:true
  });
});

const titles = panelTitles.map((t, ci) => ({
  text:t, left:COLS[ci].left + COLS[ci].width / 2, top:0, textAlign:'center',
  textStyle:{fontFamily:FONT, fontSize:23.5, fontWeight:'normal', color:'#111'}
}));

const graphics = COLS.map((c, ci) => ({
  type:'text', x:c.left + c.width, y:451,
  style:{text:'{b|\u00b710}{s|' + xExponents[ci] + '}', align:'right', verticalAlign:'middle',
    rich:{b:{fontFamily:FONT, fontSize:16, fill:'#222', lineHeight:16, verticalAlign:'bottom'},
          s:{fontFamily:FONT, fontSize:11, fill:'#222', lineHeight:11, verticalAlign:'top', padding:[0,0,8,0]}}}
}));

const chart = echarts.init(document.getElementById('c'), null, {renderer:'canvas'});
chart.setOption({
  animation:false,
  backgroundColor:'#fff',
  title:titles,
  grid:grids, xAxis:xAxes, yAxis:yAxes, series,
  graphic:graphics,
  legend:{
    data:legendNames, left:152, top:486, orient:'horizontal', selectedMode:false,
    itemWidth:44, itemHeight:10, itemGap:20,
    padding:[10,12,10,10], borderColor:'#222', borderWidth:1, borderRadius:0,
    textStyle:{fontFamily:FONT, fontSize:18, color:'#111'}
  },
  tooltip:{show:false}
});
</script></body></html>
